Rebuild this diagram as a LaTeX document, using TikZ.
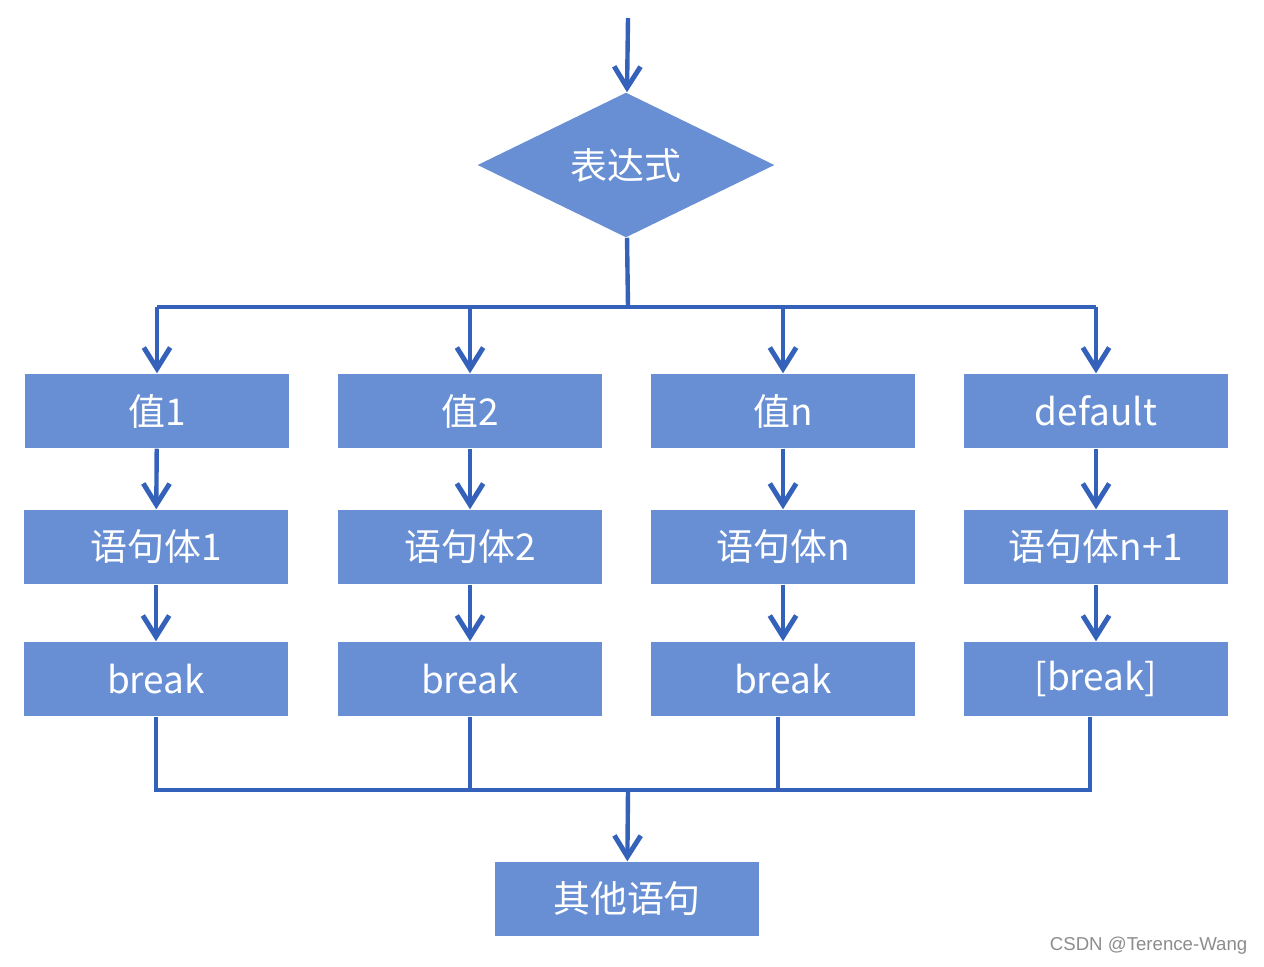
\documentclass[tikz,border=0pt]{standalone}
\usepackage{fontspec}
\newfontfamily\cjk{Noto Sans CJK SC}
\setsansfont{Liberation Sans}
\usetikzlibrary{shapes.geometric,arrows.meta,positioning}

\definecolor{boxfill}{RGB}{104,142,212}
\definecolor{flowline}{RGB}{52,98,186}

\tikzset{
  box/.style={rectangle, fill=boxfill, text=white, minimum width=2.63cm,
    minimum height=0.74cm, inner sep=0pt, font=\cjk\fontsize{10.5}{12}\selectfont},
  decision/.style={diamond, fill=boxfill, text=white, minimum width=2.97cm,
    minimum height=1.45cm, inner sep=0pt, font=\cjk\fontsize{10.5}{12}\selectfont},
  flow/.style={draw=flowline, line width=1.25pt},
  arr/.style={flow, -{Straight Barb[length=6pt, width=7.5pt, line width=1.4pt]}},
}

\begin{document}
\begin{tikzpicture}[x=0.01cm, y=-0.01cm]
  \useasboundingbox (0,0) rectangle (1264,966);

  % entry and decision
  \coordinate (start) at (628,18);
  \node[decision] (expr) at (626,165) {表达式};
  \coordinate (fork) at (628,307);

  % case values
  \node[box] (v1) at (157,411) {值1};
  \node[box] (v2) at (470,411) {值2};
  \node[box] (v3) at (783,411) {值n};
  \node[box] (v4) at (1096,411) {default};

  % statement bodies
  \node[box] (s1) at (156,547) {语句体1};
  \node[box] (s2) at (470,547) {语句体2};
  \node[box] (s3) at (783,547) {语句体n};
  \node[box] (s4) at (1096,547) {语句体n+1};

  % breaks
  \node[box] (b1) at (156,679) {break};
  \node[box] (b2) at (470,679) {break};
  \node[box] (b3) at (783,679) {break};
  \node[box] (b4) at (1096,679) {[break]};

  \coordinate (join) at (628,790);
  \node[box] (other) at (627,899) {其他语句};

  \draw[arr] (start) -- (expr);
  \draw[flow] (expr) -- (fork);
  \draw[flow] (v1.north |- fork) -- (v4.north |- fork);
  \draw[arr] (v1.north |- fork) -- (v1);
  \draw[arr] (v2.north |- fork) -- (v2);
  \draw[arr] (v3.north |- fork) -- (v3);
  \draw[arr] (v4.north |- fork) -- (v4);

  \draw[arr] (v1) -- (s1);
  \draw[arr] (v2) -- (s2);
  \draw[arr] (v3) -- (s3);
  \draw[arr] (v4) -- (s4);

  \draw[arr] (s1) -- (b1);
  \draw[arr] (s2) -- (b2);
  \draw[arr] (s3) -- (b3);
  \draw[arr] (s4) -- (b4);

  \draw[flow] (b1.south) |- (join);
  \draw[flow] ([xshift=-0.06cm]b4.south) |- (join);
  \draw[flow] (b2.south) -- (b2.south |- join);
  \draw[flow] ([xshift=-0.05cm]b3.south) -- ([xshift=-0.05cm]b3.south |- join);
  \draw[arr] (join) -- (other);

  % watermark
  \node[text=black!45, font=\sffamily\fontsize{5.3}{6.5}\selectfont, anchor=east,
    inner sep=0pt] (mark) at (1248,946) {CSDN @Terence-Wang};
\end{tikzpicture}
\end{document}
